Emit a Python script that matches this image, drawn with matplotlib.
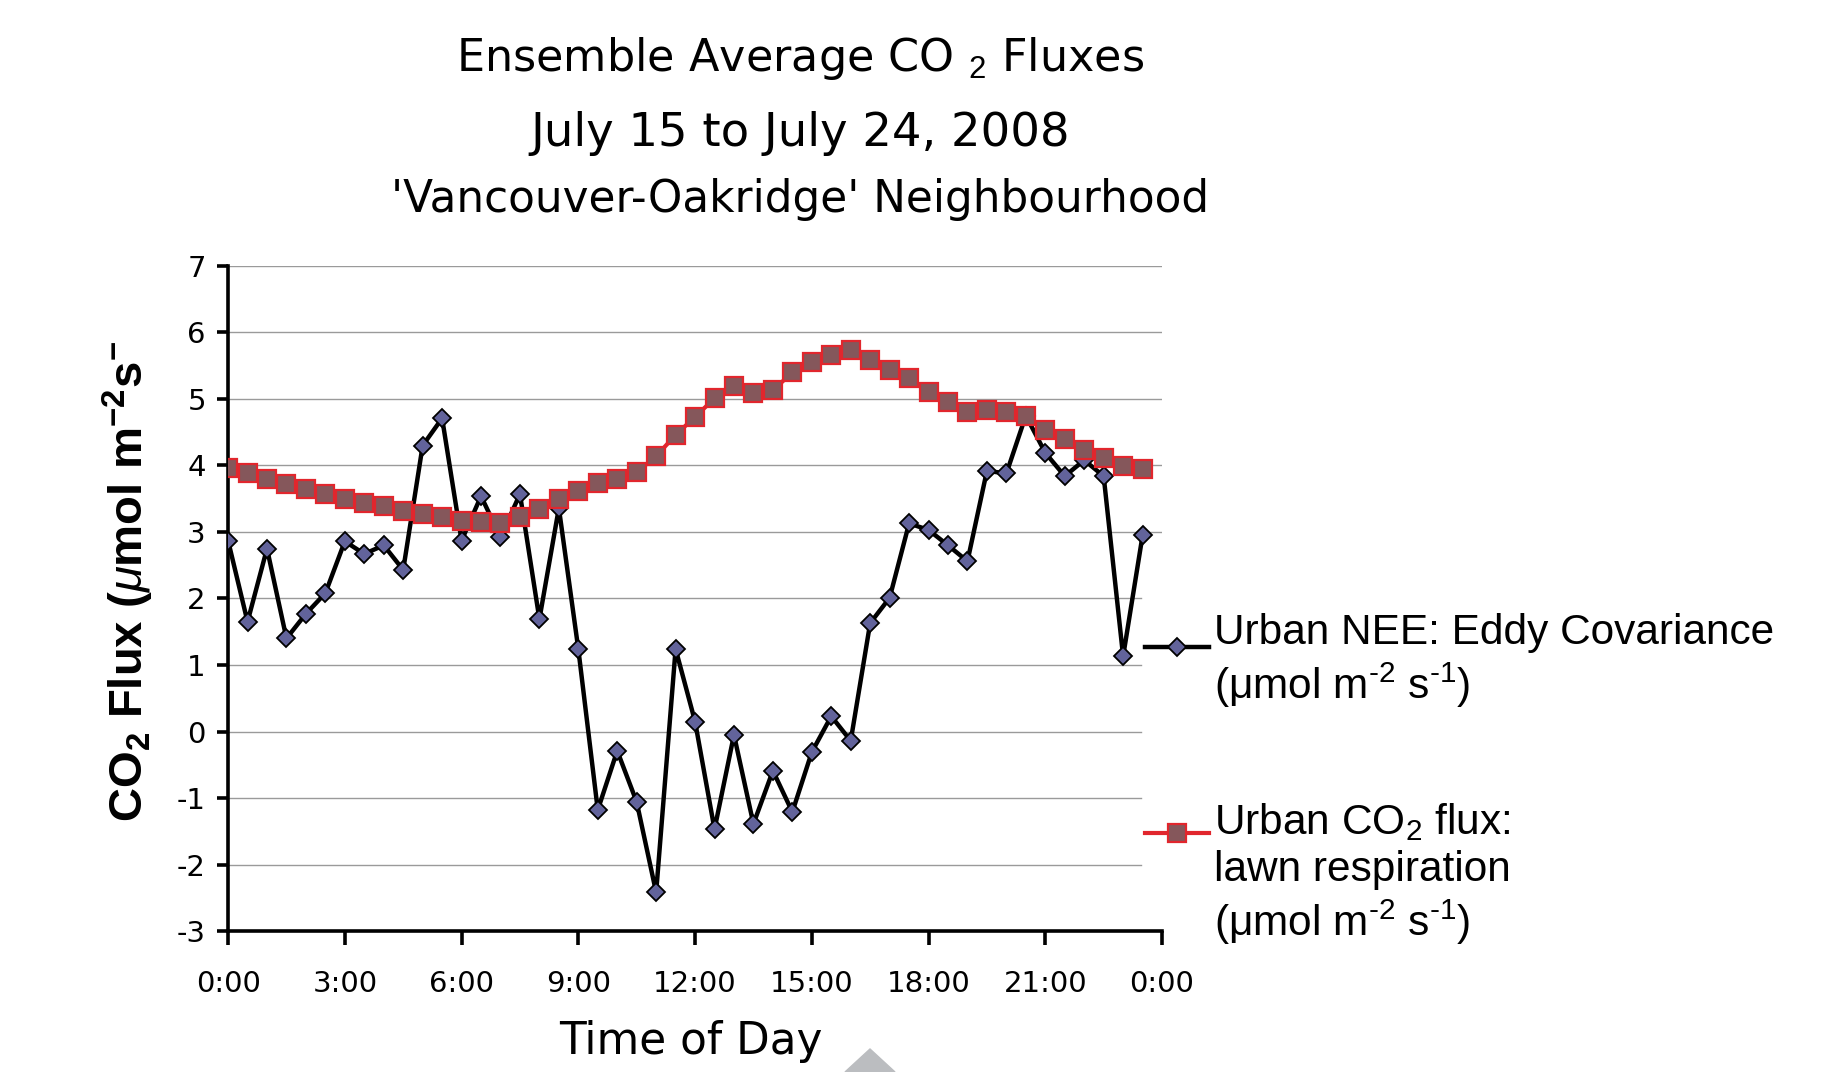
import matplotlib.pyplot as plt
from matplotlib.patches import Polygon
from matplotlib.legend_handler import HandlerLine2D
import numpy as np

plt.rcParams['mathtext.fontset'] = 'custom'
plt.rcParams['mathtext.rm'] = 'Liberation Sans'
plt.rcParams['mathtext.it'] = 'Liberation Sans:italic'
plt.rcParams['mathtext.bf'] = 'Liberation Sans:bold'
plt.rcParams['axes.unicode_minus'] = False

# half-hourly ensemble averages, 0:00 .. 23:30
hours = np.arange(48) * 0.5
nee = [2.87, 1.65, 2.75, 1.40, 1.77, 2.08, 2.86, 2.67, 2.80, 2.43,
       4.30, 4.71, 2.87, 3.54, 2.92, 3.57, 1.69, 3.36, 1.24, -1.18,
       -0.29, -1.06, -2.42, 1.24, 0.15, -1.47, -0.05, -1.39, -0.59, -1.21,
       -0.31, 0.23, -0.14, 1.63, 2.01, 3.13, 3.03, 2.80, 2.56, 3.92,
       3.88, 4.75, 4.19, 3.84, 4.08, 3.84, 1.13, 2.95]
lawn = [3.96, 3.88, 3.80, 3.72, 3.64, 3.57, 3.50, 3.43, 3.39, 3.31,
        3.27, 3.23, 3.17, 3.15, 3.14, 3.22, 3.34, 3.49, 3.61, 3.74,
        3.80, 3.90, 4.14, 4.46, 4.73, 5.01, 5.20, 5.09, 5.13, 5.40,
        5.56, 5.66, 5.74, 5.58, 5.43, 5.31, 5.10, 4.95, 4.81, 4.83,
        4.80, 4.75, 4.54, 4.40, 4.24, 4.12, 3.99, 3.94]

xticks = [0, 3, 6, 9, 12, 15, 18, 21, 24]
xticklabels = ['0:00', '3:00', '6:00', '9:00', '12:00', '15:00', '18:00', '21:00', '0:00']
yticks = list(range(-3, 8))


class RaisedLine(HandlerLine2D):
    # legend handle sitting higher than the centre of a multi-line label
    def __init__(self, dy, **kw):
        super().__init__(**kw)
        self.dy = dy

    def create_artists(self, legend, orig_handle, xdescent, ydescent, width, height, fontsize, trans):
        return super().create_artists(legend, orig_handle, xdescent, ydescent - 2 * self.dy,
                                      width, height, fontsize, trans)


fig = plt.figure(figsize=(18.32, 10.72), dpi=100)
ax = fig.add_axes([0.1245, 0.1315, 0.5098, 0.6204])

# gridlines, the lower ones stop where the legend box begins
for y in yticks[1:]:
    ax.axhline(y, xmin=0, xmax=1.0 if y >= 3 else 0.9775, color='#9a9a9a', lw=1.0, zorder=0.5)

l1, = ax.plot(hours, nee, '-', color='black', lw=3.2, marker='D', ms=9.5,
              mfc='#62639b', mec='black', mew=1.3, zorder=3)
l2, = ax.plot(hours, lawn, '-', color='#e1262d', lw=3.0, marker='s', ms=13.5,
              mfc='#85575b', mec='#e1262d', mew=1.6, zorder=4)

ax.set_xlim(0, 24)
ax.set_ylim(-3, 7)
ax.set_xticks(xticks)
ax.set_xticklabels(xticklabels)
ax.set_yticks(yticks)

for s in ['top', 'right']:
    ax.spines[s].set_visible(False)
for s in ['left', 'bottom']:
    ax.spines[s].set_linewidth(2.6)
ax.tick_params(axis='y', length=8, width=2.6, pad=8, labelsize=21)
ax.tick_params(axis='x', length=10, width=2.6, pad=18, labelsize=21)

fig.text(0.4367, 0.945, 'Ensemble Average CO $_2$ Fluxes', ha='center', va='center', fontsize=32)
fig.text(0.4367, 0.875, 'July 15 to July 24, 2008', ha='center', va='center', fontsize=33.5)
fig.text(0.4367, 0.814, "'Vancouver-Oakridge' Neighbourhood", ha='center', va='center', fontsize=31.5)

fig.text(0.377, 0.0168, 'Time of Day', ha='center', va='baseline', fontsize=31.5)
fig.text(0.07, 0.458, r'CO$_\mathbf{2}$ Flux ($\mu$mol m$^{\mathbf{-2}}$s$^{\mathbf{-}}$',
         rotation=90, ha='center', va='center', fontsize=34, fontweight='bold',
         family='Liberation Sans')

leg = ax.legend([l1, l2],
                ['Urban NEE: Eddy Covariance\n(\u03bcmol m$^{\\text{-2}}$ s$^{\\text{-1}}$)',
                 'Urban CO$_2$ flux:\nlawn respiration\n(\u03bcmol m$^{\\text{-2}}$ s$^{\\text{-1}}$)'],
                loc='upper left', bbox_to_anchor=(0.625, 0.4285), bbox_transform=fig.transFigure,
                frameon=False, borderpad=0, borderaxespad=0, handlelength=1.5,
                handletextpad=0.14, labelspacing=2.17,
                handler_map={l1: RaisedLine(11), l2: RaisedLine(30)},
                prop={'family': 'Liberation Sans', 'size': 30.5})

# grey navigation triangle at the bottom of the slide
fig.patches.append(Polygon([(845 / 1832, 0), (870 / 1832, 23 / 1072), (895 / 1832, 0)],
                           closed=True, transform=fig.transFigure, color='#bbbdc0'))

fig.savefig('out.png', dpi=100)
